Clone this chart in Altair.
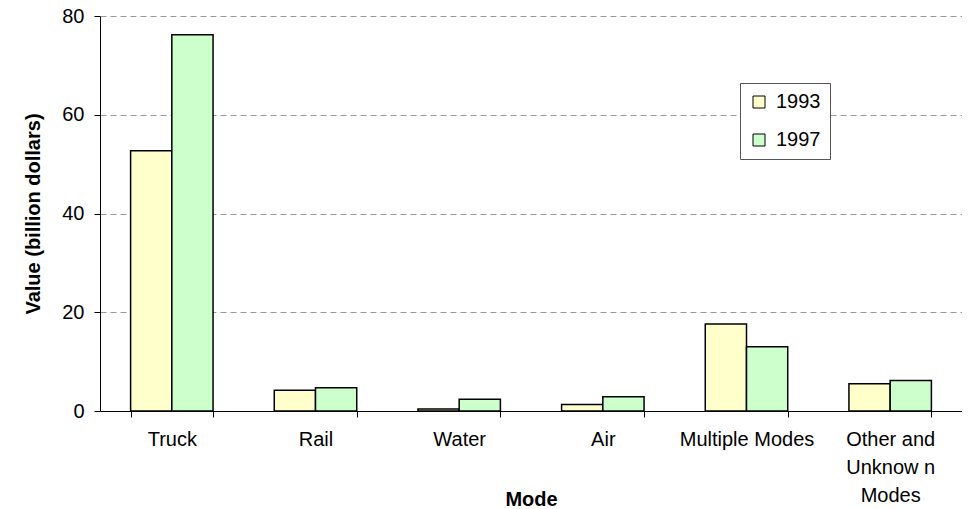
import altair as alt
import pandas as pd

modes = ["Truck", "Rail", "Water", "Air", "Multiple Modes", "Other and|Unknow n|Modes"]
years = ["1993", "1997"]
values_1993 = [52.7, 4.2, 0.4, 1.3, 17.6, 5.5]
values_1997 = [76.2, 4.7, 2.4, 2.9, 13.0, 6.2]
colors = ["#FFFFCC", "#CCFFCC"]
y_ticks = [0, 20, 40, 60, 80]

rows = []
for m, a, b in zip(modes, values_1993, values_1997):
    rows.append({"mode": m, "year": "1993", "value": a})
    rows.append({"mode": m, "year": "1997", "value": b})
df = pd.DataFrame(rows)

FONT = "Liberation Sans"

bars = alt.Chart(df).mark_bar(stroke="black", strokeWidth=1.5).encode(
    x=alt.X(
        "mode:N",
        sort=modes,
        scale=alt.Scale(paddingInner=0.426, paddingOuter=0.213),
        axis=alt.Axis(
            title="Mode",
            labelAngle=0,
            labelExpr="split(datum.label, '|')",
            labelLineHeight=28,
            labelPadding=12,
            tickBand="extent",
            tickSize=6,
            tickColor="black",
            domainColor="black",
            titleY=94,
            titleBaseline="alphabetic",
        ),
    ),
    xOffset=alt.XOffset("year:N", scale=alt.Scale(paddingInner=0, paddingOuter=0)),
    y=alt.Y(
        "value:Q",
        scale=alt.Scale(domain=[0, 80]),
        axis=alt.Axis(
            title="Value (billion dollars)",
            values=y_ticks,
            grid=True,
            gridDash=[6, 4],
            gridColor="#999999",
            gridWidth=1,
            tickSize=6,
            tickColor="black",
            domainColor="black",
            labelPadding=10,
            titlePadding=18,
        ),
    ),
    fill=alt.Fill(
        "year:N",
        scale=alt.Scale(domain=years, range=colors),
        legend=alt.Legend(
            title=None,
            orient="none",
            legendX=640,
            legendY=67,
            symbolType="square",
            symbolSize=144,
            symbolStrokeColor="black",
            symbolStrokeWidth=1,
            labelFontSize=20,
            labelFont=FONT,
            labelColor="black",
            labelOffset=7,
            rowPadding=18,
            padding=9,
            strokeColor="#555555",
            fillColor="white",
        ),
    ),
)

chart = bars.properties(
    width=862,
    height=395,
    autosize=alt.AutoSizeParams(type="none"),
    padding={"left": 92, "top": 8, "right": 0, "bottom": 98},
).configure_view(stroke=None).configure_axis(
    labelFont=FONT,
    titleFont=FONT,
    labelFontSize=20,
    titleFontSize=20,
    labelColor="black",
    titleColor="black",
    titleFontWeight="bold",
)

chart.save("out.html", embed_options={"renderer": "svg", "actions": False})
